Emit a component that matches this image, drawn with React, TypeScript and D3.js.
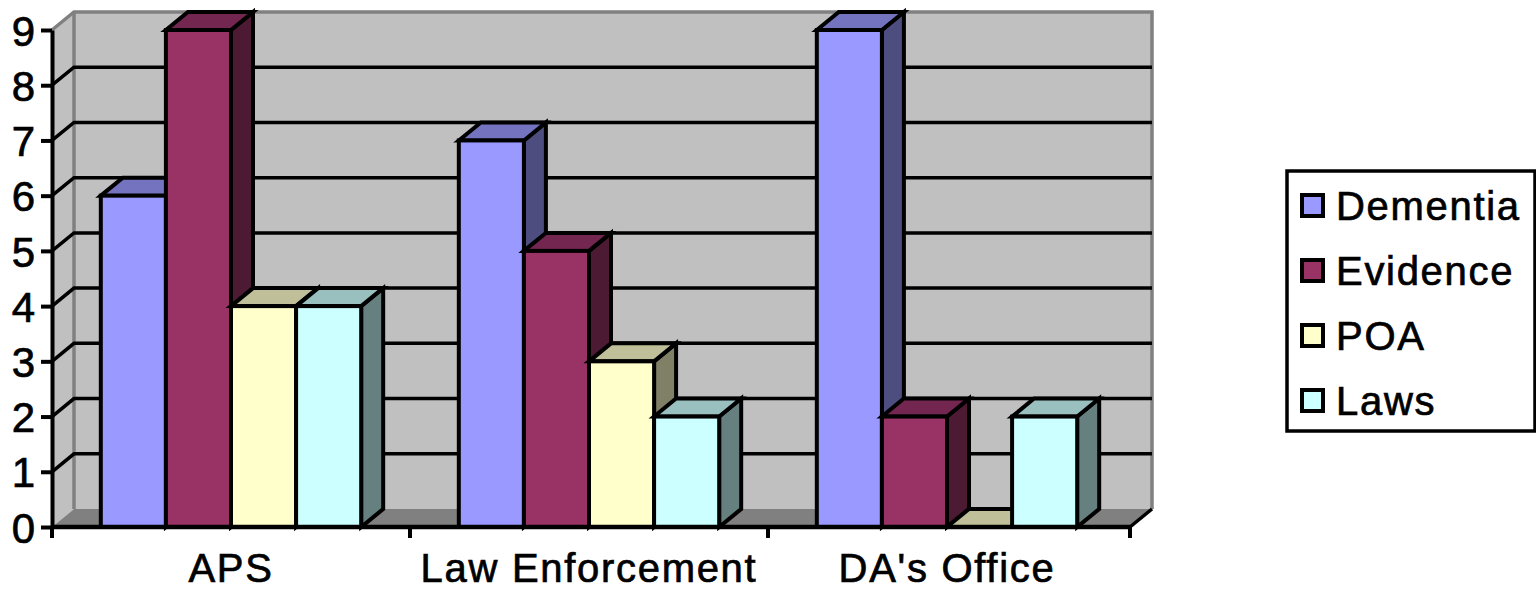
import React, { useEffect, useRef } from 'react';
import * as d3 from 'd3';

const categories = ['APS', 'Law Enforcement', "DA's Office"];
const seriesNames = ['Dementia', 'Evidence', 'POA', 'Laws'];
const dementia = [6, 7, 9];
const evidence = [9, 5, 2];
const poa = [4, 3, 0];
const laws = [4, 2, 2];
const seriesValues = [dementia, evidence, poa, laws];
const yTicks = [0, 1, 2, 3, 4, 5, 6, 7, 8, 9];

const frontColors = ['#9999ff', '#993366', '#ffffcc', '#ccffff'];
const topColors = ['#7373bf', '#732650', '#bfbf99', '#99bfbf'];
const sideColors = ['#4d4d80', '#4d1a33', '#808066', '#668080'];

const left = 52;
const right = 1130;
const bottom = 527;
const top = 30;
const dx = 22;
const dy = -18;
const font = '"Liberation Sans", Arial, sans-serif';
const fontSize = 40;
const textStyle = { stroke: '#000', strokeWidth: 0.7, letterSpacing: '1.7px' };

const y = d3.scaleLinear().domain([0, 9]).range([bottom, top]);
const xGroup = d3.scaleBand().domain(categories).range([left, 1126]);
const xBar = d3.scaleBand().domain(seriesNames).range([0, xGroup.step()]).paddingOuter(0.75);
const line = d3.line();

const App = () => {
	const axisRef = useRef(null);

	useEffect(() => {
		const g = d3.select(axisRef.current);
		g.selectAll('*').remove();
		g.call(d3.axisLeft(y).tickValues(yTicks).tickSize(11).tickSizeOuter(0).tickPadding(10));
		g.selectAll('path, line').attr('stroke', '#000').attr('stroke-width', 4);
		g.selectAll('text')
			.attr('fill', '#000')
			.attr('stroke', '#000')
			.attr('stroke-width', 0.7)
			.attr('font-family', font)
			.attr('font-size', 42)
			.attr('dy', '0.36em')
			.attr('x', -17);
	}, []);

	const wallTop = y(9) + dy;
	const wallBottom = y(0) + dy;

	return (
		<svg width={ 1536 } height={ 591 } style={{ position: 'absolute', left: 0, top: 0, display: 'block' }}>
			<rect width={ 1536 } height={ 591 } fill="#fff"/>
			{/* walls */}
			<path
				d={ line([[left, y(9)], [left + dx, wallTop], [right + dx, wallTop], [right + dx, wallBottom], [left + dx, wallBottom], [left, y(0)]]) + 'Z' }
				fill="#c0c0c0"/>
			<path d={ line([[left, y(0)], [left + dx, wallBottom], [right + dx, wallBottom], [right, y(0)]]) + 'Z' } fill="#808080"/>
			<path
				d={ line([[left, y(9)], [left + dx, wallTop], [right + dx, wallTop], [right + dx, wallBottom]]) }
				fill="none" stroke="#808080" strokeWidth={ 3.5 }/>
			<path d={ line([[left + dx, wallTop], [left + dx, wallBottom]]) } stroke="#808080" strokeWidth={ 3.5 }/>
			{/* gridlines */}
			{ yTicks.filter((t) => t > 0 && t < 9).map((t) => (
				<path
					key={ t }
					d={ line([[left, y(t)], [left + dx, y(t) + dy], [right + dx, y(t) + dy]]) }
					fill="none" stroke="#000" strokeWidth={ 3.5 }/>
			)) }
			{/* bars */}
			{ categories.map((cat, c) => seriesNames.map((name, s) => {
				const x0 = xGroup(cat) + xBar(name);
				const x1 = x0 + xBar.bandwidth();
				const yv = y(seriesValues[s][c]);
				return (
					<g key={ `${ cat }-${ name }` } stroke="#000" strokeWidth={ 4 } strokeLinejoin="miter">
						<path d={ line([[x1, yv], [x1 + dx, yv + dy], [x1 + dx, bottom + dy], [x1, bottom]]) + 'Z' } fill={ sideColors[s] }/>
						<path d={ line([[x0, yv], [x0 + dx, yv + dy], [x1 + dx, yv + dy], [x1, yv]]) + 'Z' } fill={ topColors[s] }/>
						<rect x={ x0 } y={ yv } width={ x1 - x0 } height={ bottom - yv } fill={ frontColors[s] }/>
					</g>
				);
			})) }
			{/* axes */}
			<path d={ line([[right, bottom], [right + dx, bottom + dy]]) } stroke="#000" strokeWidth={ 3.5 }/>
			<g ref={ axisRef } transform={ `translate(${ left }, 0)` }/>
			<path d={ line([[left, bottom], [right, bottom]]) } stroke="#000" strokeWidth={ 4.5 }/>
			{ [...categories.map((c) => xGroup(c)), right].map((t) => (
				<path key={ t } d={ line([[t, bottom], [t, bottom + 11]]) } stroke="#000" strokeWidth={ 4 }/>
			)) }
			{ categories.map((c) => (
				<text
					key={ c }
					x={ xGroup(c) + xGroup.step() / 2 }
					y={ 582 }
					textAnchor="middle"
					fontFamily={ font }
					fontSize={ fontSize }
					fill="#000"
					style={ textStyle }>
					{ c }
				</text>
			)) }
			{/* legend */}
			<rect x={ 1287 } y={ 171 } width={ 248 } height={ 260 } fill="#fff" stroke="#000" strokeWidth={ 3.5 }/>
			{ seriesNames.map((name, s) => {
				const cy = 206 + s * 65;
				return (
					<g key={ name }>
						<rect x={ 1302 } y={ cy - 11 } width={ 21 } height={ 21 } fill={ frontColors[s] } stroke="#000" strokeWidth={ 4 }/>
						<text x={ 1336 } y={ cy + 14 } fontFamily={ font } fontSize={ fontSize } fill="#000" style={ textStyle }>{ name }</text>
					</g>
				);
			}) }
		</svg>
	);
};

export default App;
